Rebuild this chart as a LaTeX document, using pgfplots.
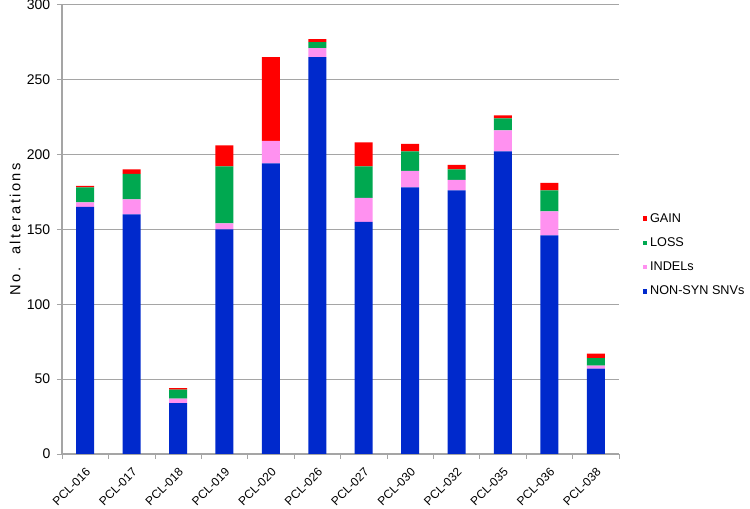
\documentclass[border=0pt]{standalone}
\usepackage{pgfplots}
\pgfplotsset{compat=1.18}
\usepackage{fontspec}
\setmainfont{Liberation Sans}

\definecolor{snvblue}{RGB}{0,41,204}
\definecolor{indelpink}{RGB}{255,145,240}
\definecolor{lossgreen}{RGB}{0,168,80}
\definecolor{gainred}{RGB}{255,0,0}
\definecolor{gridgray}{RGB}{165,165,165}

\begin{document}
\begin{tikzpicture}
\begin{axis}[
    scale only axis,
    width=417.75pt, height=337pt,
    ybar stacked,
    bar width=13.5pt,
    xmin=-0.5, xmax=11.5,
    ymin=0, ymax=300,
    ytick={0,50,...,300},
    xtick=data,
    xticklabels={PCL-016,PCL-017,PCL-018,PCL-019,PCL-020,PCL-026,PCL-027,PCL-030,PCL-032,PCL-035,PCL-036,PCL-038},
    minor xtick={-0.5,0.5,...,11.5},
    major x tick style={draw=none},
    minor tick length=3.5pt,
    major tick length=3.75pt,
    tick align=outside,
    tick style={gridgray, thin},
    axis x line*=bottom,
    axis y line*=left,
    axis line style={gridgray, thick},
    ymajorgrids,
    major grid style={gridgray, thick},
    /pgf/number format/assume math mode=true,
    x tick label style={font=\fontsize{9}{10}\selectfont, rotate=45, anchor=north east, inner sep=1pt, xshift=-3pt, yshift=-3pt},
    y tick label style={font=\fontsize{10.5}{12}\selectfont, xshift=-1.5pt},
    ylabel={No.\ \ alterations},
    ylabel style={font=\fontsize{11}{12}\selectfont\addfontfeature{LetterSpace=16}, at={(axis description cs:-0.084,0.5)}, anchor=center},
    legend style={draw=none, fill=none, font=\fontsize{9.5}{12}\selectfont,
        at={(axis description cs:1.042,0.443)}, anchor=west,
        row sep=6pt, inner sep=0pt},
    legend cell align=left,
    reverse legend,
    legend image code/.code={\fill[#1, draw=none] (0pt,-1.8pt) rectangle (3.6pt,1.8pt);},
]
\addplot[fill=snvblue, draw=none] coordinates {
    (0,165) (1,160) (2,34) (3,150) (4,194) (5,265) (6,155) (7,178) (8,176) (9,202) (10,146) (11,57)};
\addlegendentry{NON-SYN SNVs}
\addplot[fill=indelpink, draw=none] coordinates {
    (0,3) (1,10) (2,3) (3,4) (4,15) (5,6) (6,16) (7,11) (8,7) (9,14) (10,16) (11,2)};
\addlegendentry{INDELs}
\addplot[fill=lossgreen, draw=none] coordinates {
    (0,10) (1,17) (2,6) (3,38) (4,0) (5,4) (6,21) (7,13) (8,7) (9,8) (10,14) (11,5)};
\addlegendentry{LOSS}
\addplot[fill=gainred, draw=none] coordinates {
    (0,1) (1,3) (2,1) (3,14) (4,56) (5,2) (6,16) (7,5) (8,3) (9,2) (10,5) (11,3)};
\addlegendentry{GAIN}
\end{axis}
\pgfresetboundingbox
\path (-46.5pt,-41.25pt) rectangle (516pt,340.5pt);
\end{tikzpicture}
\end{document}
